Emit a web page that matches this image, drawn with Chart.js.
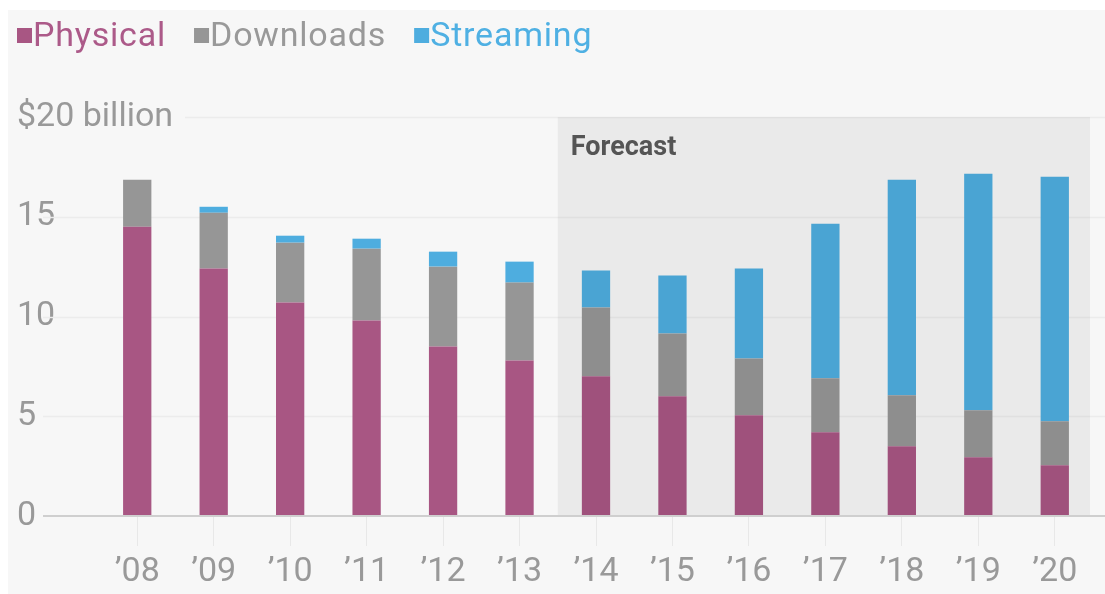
<!DOCTYPE html>
<html>
<head>
<meta charset="utf-8">
<script src="https://cdn.jsdelivr.net/npm/chart.js@4/dist/chart.umd.min.js"></script>
<style>
  html, body { margin: 0; padding: 0; background: #fff; }
  #wrap { width: 1105px; height: 594px; }
</style>
</head>
<body>
<div id="wrap"><canvas id="chart" width="1105" height="594"></canvas></div>
<script>
// music revenue by format, $ billions
const years = ['’08', '’09', '’10', '’11', '’12', '’13', '’14', '’15', '’16', '’17', '’18', '’19', '’20'];
const physical = [14.5, 12.4, 10.7, 9.8, 8.5, 7.8, 7.0, 6.0, 5.05, 4.2, 3.5, 2.95, 2.55];
const downloads = [2.35, 2.8, 3.0, 3.6, 4.0, 3.9, 3.45, 3.15, 2.85, 2.7, 2.55, 2.35, 2.2];
const streaming = [0, 0.3, 0.35, 0.5, 0.75, 1.05, 1.85, 2.9, 4.5, 7.75, 10.8, 11.85, 12.25];
const yTicks = [0, 5, 10, 15, 20];
const topLabel = '$20 billion';
const forecastFrom = 6; // '14 onwards is forecast

const COLORS = { physical: '#a85683', downloads: '#969696', streaming: '#4eaddf' };
const TEXT = { physical: '#ac5a89', downloads: '#999999', streaming: '#4fb0e3' };

Chart.defaults.font.family = 'Roboto';

// background panel, gridlines, forecast band
const backdrop = {
  id: 'backdrop',
  beforeDraw(chart) {
    const c = chart.ctx;
    c.save();
    c.fillStyle = '#ffffff';
    c.fillRect(0, 0, chart.width, chart.height);
    c.fillStyle = '#f7f7f7';
    c.fillRect(8, 10, chart.width - 8, chart.height - 10);
    c.restore();
  },
  beforeDatasetsDraw(chart) {
    const c = chart.ctx, y = chart.scales.y;
    c.save();
    c.strokeStyle = '#ececec';
    c.lineWidth = 1.5;
    yTicks.forEach(v => {
      if (v === 0) return;
      const py = Math.round(y.getPixelForValue(v)) + 0.5;
      c.beginPath();
      c.moveTo(v === 20 ? 185 : 43, py);
      c.lineTo(chart.width, py);
      c.stroke();
    });
    // top tick label sits outside the axis box, so draw it here
    c.fillStyle = '#999999';
    c.font = '34px Roboto';
    c.textBaseline = 'middle';
    c.fillText(topLabel, 17, y.getPixelForValue(20));
    c.restore();
  },
  afterDatasetsDraw(chart) {
    const c = chart.ctx, x = chart.scales.x, y = chart.scales.y;
    const left = (x.getPixelForValue(forecastFrom - 1) + x.getPixelForValue(forecastFrom)) / 2;
    const right = chart.chartArea.right - 3;
    const top = y.getPixelForValue(20), bottom = y.getPixelForValue(0);
    c.save();
    c.fillStyle = 'rgba(0,0,0,0.05)';
    c.fillRect(left, top, right - left, bottom - top);
    c.fillStyle = '#555555';
    c.font = 'bold 27px Roboto';
    c.textBaseline = 'alphabetic';
    c.fillText('Forecast', left + 13, top + 38);
    // baseline
    c.strokeStyle = '#cfcfcf';
    c.lineWidth = 2;
    c.beginPath();
    c.moveTo(43, bottom);
    c.lineTo(chart.width, bottom);
    c.stroke();
    c.restore();
  }
};

// legend: small squares with coloured labels
const squareLegend = {
  id: 'squareLegend',
  afterDraw(chart) {
    const c = chart.ctx;
    c.save();
    c.font = '34px Roboto';
    c.letterSpacing = '0.8px';
    c.textBaseline = 'middle';
    let lx = 17;
    chart.data.datasets.forEach(ds => {
      c.fillStyle = ds.backgroundColor;
      c.fillRect(lx, 28, 15, 15);
      c.fillStyle = ds.textColor;
      c.fillText(ds.label, lx + 16, 37);
      lx += 16 + c.measureText(ds.label).width + 28;
    });
    c.restore();
  }
};

const barOpts = { stack: 'a', categoryPercentage: 1, barPercentage: 0.37, borderWidth: 0 };

new Chart(document.getElementById('chart'), {
  type: 'bar',
  data: {
    labels: years,
    datasets: [
      { label: 'Physical', data: physical, backgroundColor: COLORS.physical, textColor: TEXT.physical, ...barOpts },
      { label: 'Downloads', data: downloads, backgroundColor: COLORS.downloads, textColor: TEXT.downloads, ...barOpts },
      { label: 'Streaming', data: streaming, backgroundColor: COLORS.streaming, textColor: TEXT.streaming, ...barOpts }
    ]
  },
  options: {
    responsive: false,
    animation: false,
    layout: { padding: { left: 17, right: 12, top: 117, bottom: 0 } },
    plugins: { legend: { display: false }, tooltip: { enabled: false } },
    scales: {
      x: {
        stacked: true,
        border: { display: false },
        grid: { display: true, drawOnChartArea: false, offset: false, tickLength: 30, color: '#e8e8e8', lineWidth: 1 },
        afterFit: scale => { scale.height = 78; },
        ticks: { color: '#999999', font: { size: 34, lineHeight: 1 }, padding: 9, maxRotation: 0 }
      },
      y: {
        stacked: true,
        min: 0,
        max: 20,
        border: { display: false },
        grid: { display: false },
        afterFit: scale => { scale.width = 82; },
        ticks: {
          stepSize: 5,
          crossAlign: 'far',
          color: '#999999',
          font: { size: 34 },
          callback: v => v === 20 ? '' : v
        }
      }
    }
  },
  plugins: [backdrop, squareLegend]
});
</script>
</body>
</html>
